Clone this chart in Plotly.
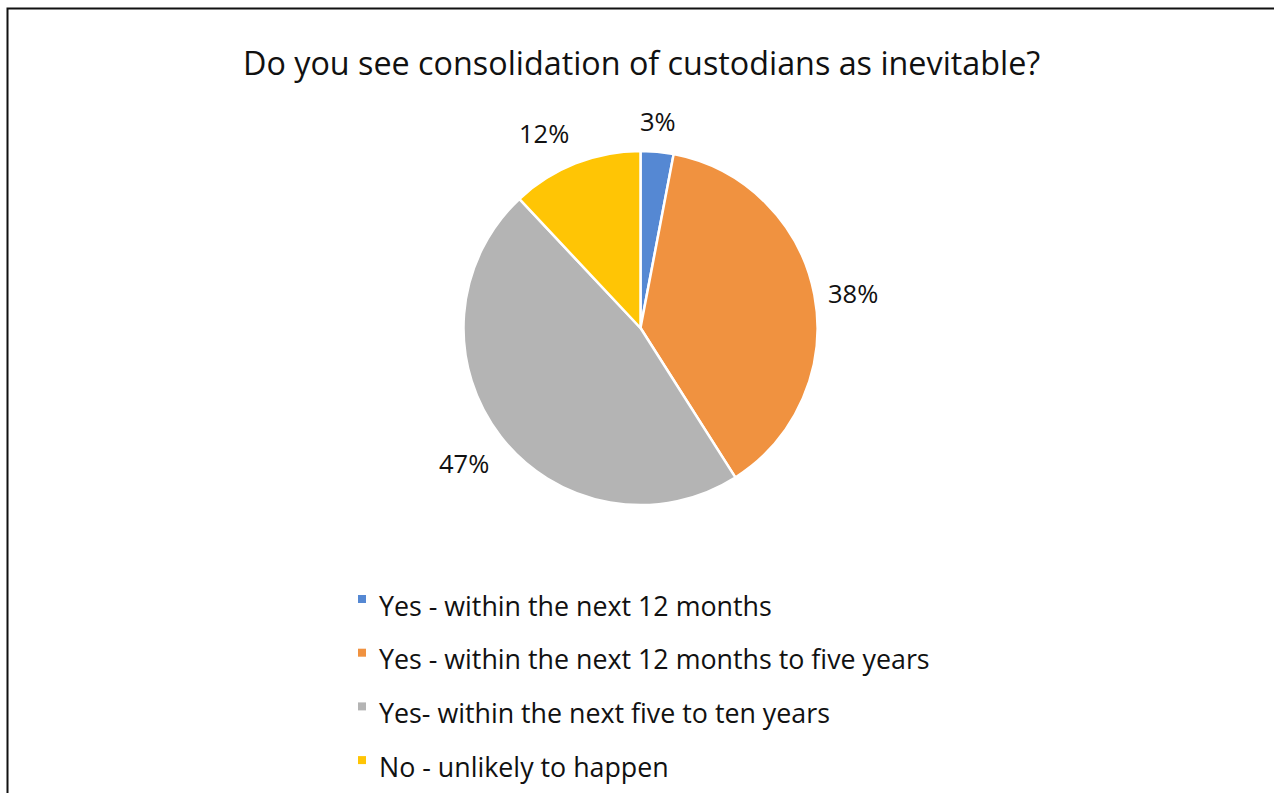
import math
import plotly.graph_objects as go

# Survey answers and shares (%)
labels = [
    "Yes - within the next 12 months",
    "Yes - within the next 12 months to five years",
    "Yes- within the next five to ten years",
    "No - unlikely to happen",
]
values = [3, 38, 47, 12]
colors = ["#5588D3", "#F09240", "#B4B4B4", "#FFC505"]
title_text = "Do you see consolidation of custodians as inevitable?"

W, H = 1274, 793
FONT = "'Open Sans', sans-serif"
TEXT_COLOR = "#111111"

# Pie placement in pixels (centre and radius)
cx, cy, r = 640.5, 328.0, 177.0

fig = go.Figure(
    go.Pie(
        labels=labels,
        values=values,
        sort=False,
        direction="clockwise",
        rotation=0,
        marker=dict(colors=colors, line=dict(color="white", width=2.5)),
        textinfo="none",
        hoverinfo="label+percent",
        showlegend=False,
        domain=dict(
            x=[(cx - r) / W, (cx + r) / W],
            y=[(H - cy - r) / H, (H - cy + r) / H],
        ),
    )
)

def px(x):
    return x / W

def py(y):
    return 1 - y / H

annotations = []

# Percentage labels placed just outside each slice, at its mid-angle
total = sum(values)
cum = 0.0
for v in values:
    mid = 90 - (cum + v / 2) / total * 360
    cum += v
    a = math.radians(mid)
    c, s = math.cos(a), math.sin(a)
    gap = 12
    lx = cx + (r + gap) * c
    ly = cy - (r + gap) * s
    xa = "left" if c > 0.35 else ("right" if c < -0.35 else "center")
    ya = "bottom" if s > 0.35 else ("top" if s < -0.35 else "middle")
    annotations.append(dict(
        x=px(lx), y=py(ly), xref="paper", yref="paper",
        text=f"{round(v / total * 100)}%", showarrow=False,
        xanchor=xa, yanchor=ya,
        font=dict(family=FONT, size=25.5, color=TEXT_COLOR),
    ))

# Chart title
annotations.append(dict(
    x=px(641), y=py(62), xref="paper", yref="paper", text=title_text,
    showarrow=False, xanchor="center", yanchor="middle",
    font=dict(family=FONT, size=32.3, color=TEXT_COLOR),
))

# Legend: small colour squares with labels stacked below the pie
shapes = []
leg_x, leg_y0, leg_dy = 358, 605, 53.7
for i, (lab, col) in enumerate(zip(labels, colors)):
    yc = leg_y0 + i * leg_dy
    shapes.append(dict(
        type="rect", xref="paper", yref="paper",
        x0=px(leg_x), x1=px(leg_x + 8), y0=py(yc - 10), y1=py(yc - 2),
        fillcolor=col, line=dict(width=0),
    ))
    annotations.append(dict(
        x=px(leg_x + 19), y=py(yc), xref="paper", yref="paper", text=lab,
        showarrow=False, xanchor="left", yanchor="middle",
        font=dict(family=FONT, size=26.8, color=TEXT_COLOR),
    ))

# Chart frame (left and top edges visible)
shapes.append(dict(
    type="rect", xref="paper", yref="paper",
    x0=px(7.5), x1=px(W + 10), y0=py(H + 10), y1=py(8.5),
    line=dict(color="#111111", width=2), fillcolor="rgba(0,0,0,0)",
))

fig.update_layout(
    width=W, height=H,
    margin=dict(l=0, r=0, t=0, b=0),
    paper_bgcolor="white",
    plot_bgcolor="white",
    annotations=annotations,
    shapes=shapes,
)

fig.write_html("out.html")
